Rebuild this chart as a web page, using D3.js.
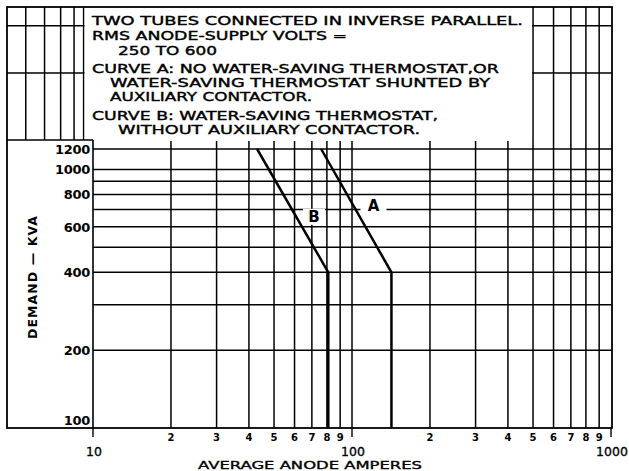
<!DOCTYPE html>
<html>
<head>
<meta charset="utf-8">
<script src="https://cdn.jsdelivr.net/npm/d3@7"></script>
<style>
    body { margin: 0; background: #fff; }
    svg { display: block; }
    text { fill: #000; font-family: "DejaVu Sans", sans-serif; }
</style>
</head>
<body>
<div id="chart"></div>
<script>
// --- chart values ---
const ampGrid = [20, 30, 40, 50, 60, 70, 80, 90, 100, 200, 300, 400, 500, 600, 700, 800, 900];
const kvaGrid = [200, 300, 400, 500, 600, 700, 800, 900, 1000, 1200];
const kvaLabels = [100, 200, 400, 600, 800, 1000, 1200];
const ampMinorLabels = [20, 30, 40, 50, 60, 70, 80, 90, 200, 300, 400, 500, 600, 700, 800, 900];
const ampMajorLabels = [10, 100, 1000];
// leftover grid of the chart paper above the plot
const upperKvaGrid = [2360, 3600];
const upperAmpGrid = [5.5, 6.5, 7.5, 8.45, 9.2];

const curveA_amps = [76, 142, 142];
const curveA_kva = [1200, 400, 100];
const curveB_amps = [43, 81, 81];
const curveB_kva = [1200, 400, 100];

const noteLines = [
    'TWO TUBES CONNECTED IN INVERSE PARALLEL.',
    'RMS ANODE-SUPPLY VOLTS =',
    '250 TO 600',
    'CURVE A: NO WATER-SAVING THERMOSTAT,OR',
    'WATER-SAVING THERMOSTAT SHUNTED BY',
    'AUXILIARY CONTACTOR.',
    'CURVE B: WATER-SAVING THERMOSTAT,',
    'WITHOUT AUXILIARY CONTACTOR.'
];
const xTitle = 'AVERAGE ANODE AMPERES';
const yTitle = 'DEMAND \u2014 KVA';

// --- layout (pixels) ---
const W = 629, H = 471;
const frame = { left: 7, top: 7, right: 612, bottom: 428 };
const plotLeft = 93;
const boxBottom = 141;
// x start, baseline, drawn width for each note line
const noteLayout = [
    [92, 25, 431], [92, 39.5, 255], [118, 54.5, 99], [92, 72.5, 407],
    [110, 87, 380], [110, 101, 202], [92, 119.5, 346], [118, 134, 302]
];

const x = d3.scaleLog().domain([10, 1000]).range([plotLeft, 611]);
const y = d3.scaleLog().domain([100, 1200]).range([428, 149]);

const svg = d3.select('#chart').append('svg').attr('width', W).attr('height', H);
svg.append('rect').attr('width', W).attr('height', H).attr('fill', '#fff');

const grid = svg.append('g').attr('stroke', '#000').attr('stroke-width', 1.5);

// upper paper grid
grid.selectAll('.uh').data(upperKvaGrid).join('line')
    .attr('x1', frame.left).attr('x2', frame.right)
    .attr('y1', d => y(d)).attr('y2', d => y(d));
grid.selectAll('.uv').data(upperAmpGrid).join('line')
    .attr('x1', d => x(d)).attr('x2', d => x(d))
    .attr('y1', frame.top).attr('y2', boxBottom - 1);

// main grid
grid.selectAll('.v').data(ampGrid).join('line')
    .attr('x1', d => x(d)).attr('x2', d => x(d))
    .attr('y1', frame.top).attr('y2', frame.bottom);
grid.selectAll('.h').data(kvaGrid).join('line')
    .attr('x1', plotLeft).attr('x2', frame.right)
    .attr('y1', d => y(d)).attr('y2', d => y(d));

// note box (blank area over the grid)
svg.append('rect')
    .attr('x', x(9.2) + 1).attr('y', frame.top)
    .attr('width', x(500) - x(9.2) - 2).attr('height', boxBottom - frame.top)
    .attr('fill', '#fff');

// y label area
svg.append('rect')
    .attr('x', frame.left).attr('y', boxBottom - 1)
    .attr('width', plotLeft - frame.left).attr('height', frame.bottom - boxBottom + 1)
    .attr('fill', '#fff');
svg.append('line').attr('stroke', '#000').attr('stroke-width', 1.5)
    .attr('x1', frame.left).attr('x2', plotLeft).attr('y1', boxBottom - 1).attr('y2', boxBottom - 1);
svg.append('line').attr('stroke', '#000').attr('stroke-width', 1.6)
    .attr('x1', x(10)).attr('x2', x(10)).attr('y1', boxBottom - 1).attr('y2', frame.bottom);

// frame
svg.append('rect')
    .attr('x', frame.left).attr('y', frame.top)
    .attr('width', frame.right - frame.left).attr('height', frame.bottom - frame.top)
    .attr('fill', 'none').attr('stroke', '#000').attr('stroke-width', 1.8);

// major ticks below the axis
svg.selectAll('.mt').data(ampMajorLabels).join('line')
    .attr('stroke', '#000').attr('stroke-width', 1.4)
    .attr('x1', d => x(d)).attr('x2', d => x(d))
    .attr('y1', frame.bottom).attr('y2', frame.bottom + 9);

// curves
const line = d3.line().x(d => x(d[0])).y(d => y(d[1]));
[[curveA_amps, curveA_kva], [curveB_amps, curveB_kva]].forEach(([a, k]) => {
    svg.append('path')
        .attr('d', line(a.map((v, i) => [v, k[i]])))
        .attr('fill', 'none').attr('stroke', '#000').attr('stroke-width', 2.5);
});

// curve labels
const curveLabels = [['A', 121, 726, 26, 13], ['B', 71.3, 656, 22, 16]];
curveLabels.forEach(([t, a, k, w, h]) => {
    svg.append('rect').attr('fill', '#fff')
        .attr('x', x(a) - w / 2).attr('y', y(k) - h / 2).attr('width', w).attr('height', h);
    svg.append('text').text(t)
        .attr('x', x(a)).attr('y', y(k) + 5.5)
        .attr('text-anchor', 'middle').attr('font-size', 15).attr('font-weight', 'bold');
});

// y tick labels (100 sits just above the bottom line)
svg.selectAll('.yl').data(kvaLabels).join('text')
    .text(d => d)
    .attr('x', 90).attr('y', d => d === 100 ? y(d) - 3 : y(d) + 4.8)
    .attr('text-anchor', 'end').attr('font-size', 13).attr('font-weight', 'bold')
    .attr('letter-spacing', -0.3);

// x tick labels
svg.selectAll('.xl').data(ampMinorLabels).join('text')
    .text(d => String(d)[0])
    .attr('x', d => x(d)).attr('y', 441)
    .attr('text-anchor', 'middle').attr('font-size', 10).attr('font-weight', 'bold');
svg.selectAll('.xm').data(ampMajorLabels).join('text')
    .text(d => d)
    .attr('x', d => x(d) + 1).attr('y', 455.5)
    .attr('text-anchor', 'middle').attr('font-size', 12.5)
    .attr('stroke', '#000').attr('stroke-width', 0.3);

// axis titles
svg.append('text').text(xTitle)
    .attr('x', 198).attr('y', 469)
    .attr('font-size', 11).attr('stroke', '#000').attr('stroke-width', 0.35)
    .attr('textLength', 224).attr('lengthAdjust', 'spacingAndGlyphs');
svg.append('text').text(yTitle)
    .attr('transform', 'translate(37,339) rotate(-90)')
    .attr('font-size', 12.5).attr('font-weight', 'bold')
    .attr('textLength', 123).attr('lengthAdjust', 'spacing');

// note text
svg.selectAll('.note').data(noteLines).join('text')
    .text(d => d)
    .attr('x', (d, i) => noteLayout[i][0])
    .attr('y', (d, i) => noteLayout[i][1])
    .attr('textLength', (d, i) => noteLayout[i][2])
    .attr('lengthAdjust', 'spacingAndGlyphs')
    .attr('font-size', 12.5)
    .attr('stroke', '#000').attr('stroke-width', 0.4);
</script>
</body>
</html>
